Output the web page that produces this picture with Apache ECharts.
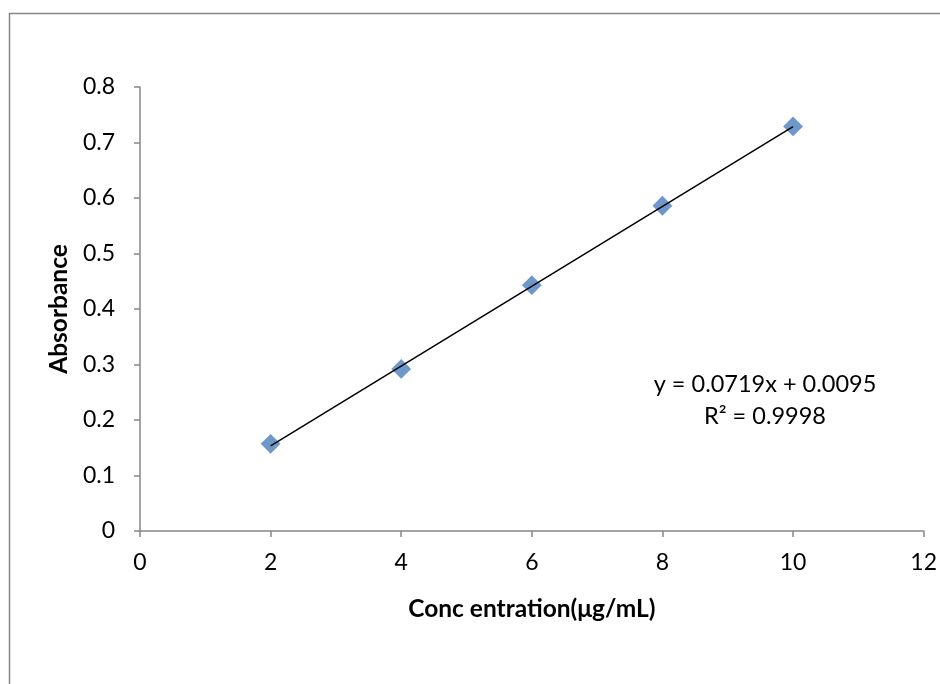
<!DOCTYPE html>
<html><head><meta charset="utf-8">
<script src="https://cdn.jsdelivr.net/npm/echarts@6/dist/echarts.min.js"></script>
<style>html,body{margin:0;padding:0;background:#fff}#c{width:940px;height:684px}</style>
</head><body><div id="c"></div>
<script>
const concentrations = [2, 4, 6, 8, 10];
const absorbances = [0.157, 0.292, 0.443, 0.586, 0.729];
const slope = 0.0719;
const intercept = 0.0095;
const xTicks = [0, 2, 4, 6, 8, 10, 12];
const yTicks = [0, 0.1, 0.2, 0.3, 0.4, 0.5, 0.6, 0.7, 0.8];
const equationLines = ['y = 0.0719x + 0.0095', 'R² = 0.9998'];

const FONT = 'Lato, "Open Sans", sans-serif';
const AXIS = '#868686';
const chart = echarts.init(document.getElementById('c'), null, {renderer: 'canvas'});
const xMin = concentrations[0], xMax = concentrations[concentrations.length - 1];
const trend = [[xMin, slope * xMin + intercept], [xMax, slope * xMax + intercept]];

chart.setOption({
  animation: false,
  backgroundColor: '#fff',
  grid: {left: 140, right: 16, top: 87, bottom: 153},
  graphic: [
    {type: 'rect', shape: {x: 9.5, y: 13.5, width: 960, height: 700}, style: {fill: 'none', stroke: AXIS, lineWidth: 1.5}, silent: true},
    {type: 'text', x: 765, y: 384, style: {text: equationLines[0], fontFamily: FONT, fontSize: 23.5, fill: '#000', align: 'center', verticalAlign: 'middle'}},
    {type: 'text', x: 765, y: 416, style: {text: equationLines[1], fontFamily: FONT, fontSize: 23.5, fill: '#000', align: 'center', verticalAlign: 'middle'}}
  ],
  xAxis: {
    type: 'value', min: xTicks[0], max: xTicks[xTicks.length - 1], interval: 2,
    name: 'Conc entration(μg/mL)', nameLocation: 'middle', nameGap: 66,
    nameTextStyle: {fontFamily: FONT, fontSize: 24.5, fontWeight: 'bold', color: '#000'},
    axisLine: {onZero: false, lineStyle: {color: AXIS, width: 1.5}},
    axisTick: {show: true, length: 6, lineStyle: {color: AXIS, width: 1.5}},
    axisLabel: {fontFamily: FONT, fontSize: 23, color: '#000', margin: 20},
    splitLine: {show: false}
  },
  yAxis: {
    type: 'value', min: yTicks[0], max: yTicks[yTicks.length - 1], interval: 0.1,
    name: 'Absorbance', nameLocation: 'middle', nameGap: 68, nameRotate: 90,
    nameTextStyle: {fontFamily: FONT, fontSize: 24.5, fontWeight: 'bold', color: '#000'},
    axisLine: {show: true, lineStyle: {color: AXIS, width: 1.5}},
    axisTick: {show: true, length: 6, lineStyle: {color: AXIS, width: 1.5}},
    axisLabel: {fontFamily: FONT, fontSize: 23, color: '#000', margin: 25,
      formatter: v => (Math.round(v * 10) / 10).toString()},
    splitLine: {show: false}
  },
  series: [
    {
      type: 'scatter', data: concentrations.map((x, i) => [x, absorbances[i]]),
      symbol: 'rect', symbolSize: 14, symbolRotate: 45,
      itemStyle: {color: '#4A7EBB'}, z: 2
    },
    {
      type: 'line', data: trend, showSymbol: false, symbol: 'none',
      lineStyle: {color: '#000', width: 1.5}, z: 3
    }
  ]
});
</script></body></html>
